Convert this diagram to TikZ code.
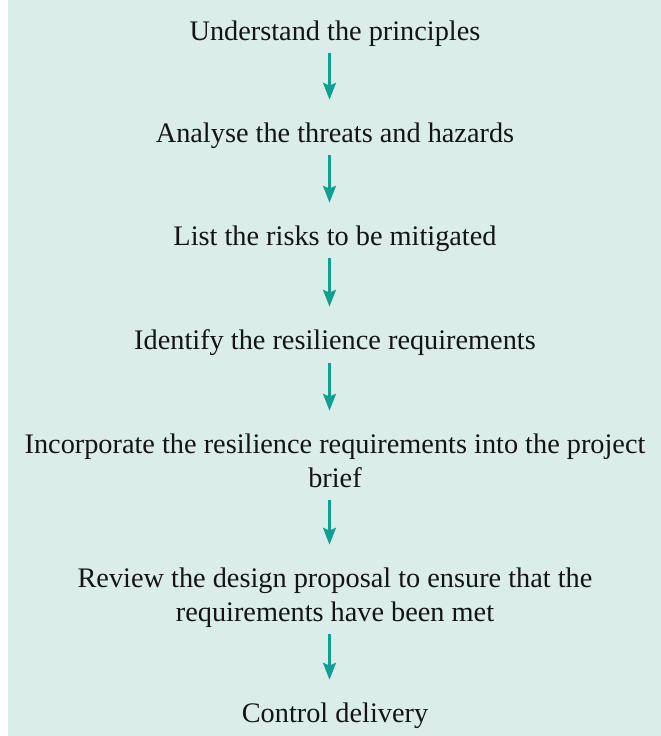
\documentclass[tikz,border=0pt]{standalone}
\usepackage{fontspec}
\setmainfont{Liberation Serif}
\usetikzlibrary{arrows.meta}
\definecolor{panelbg}{RGB}{218,237,233}
\definecolor{flowteal}{RGB}{16,160,145}
\definecolor{stepink}{RGB}{20,20,20}
\begin{document}
\begin{tikzpicture}[x=1pt,y=1pt,
  stepbox/.style={anchor=north, inner sep=0pt, align=center, text=stepink,
    font=\fontsize{28.3}{33.5}\selectfont},
  flowarrow/.style={draw=flowteal, line width=2.4pt,
    -{Stealth[length=17pt,width=13pt,inset=3pt,flowteal]}}]
  \useasboundingbox (0,0) rectangle (661,-736);
  \fill[panelbg] (8,0) rectangle (661,-736);
  % column axis for the arrows
  \coordinate (axis) at (329.5,0);
  % steps, placed by the top of their first line
  \node[stepbox] (s1) at (335,-20.7)  {Understand the principles};
  \node[stepbox] (s2) at (335,-122.7) {Analyse the threats and hazards};
  \node[stepbox] (s3) at (335,-225.7) {List the risks to be mitigated};
  \node[stepbox] (s4) at (335,-329.7) {Identify the resilience requirements};
  \node[stepbox] (s5) at (335,-433.7) {Incorporate the resilience requirements into the project\\brief\vphantom{p}};
  \node[stepbox] (s6) at (335,-567.7) {Review the design proposal to ensure that the\\requirements have been met};
  \node[stepbox] (s7) at (335,-702.7) {Control delivery};
  % connectors
  \foreach \a/\b in {s1/s2,s2/s3,s3/s4,s4/s5,s5/s6,s6/s7}
    \draw[flowarrow] ([yshift=-6.5pt]\a.south -| axis) -- ([yshift=23pt]\b.north -| axis);
\end{tikzpicture}
\end{document}
